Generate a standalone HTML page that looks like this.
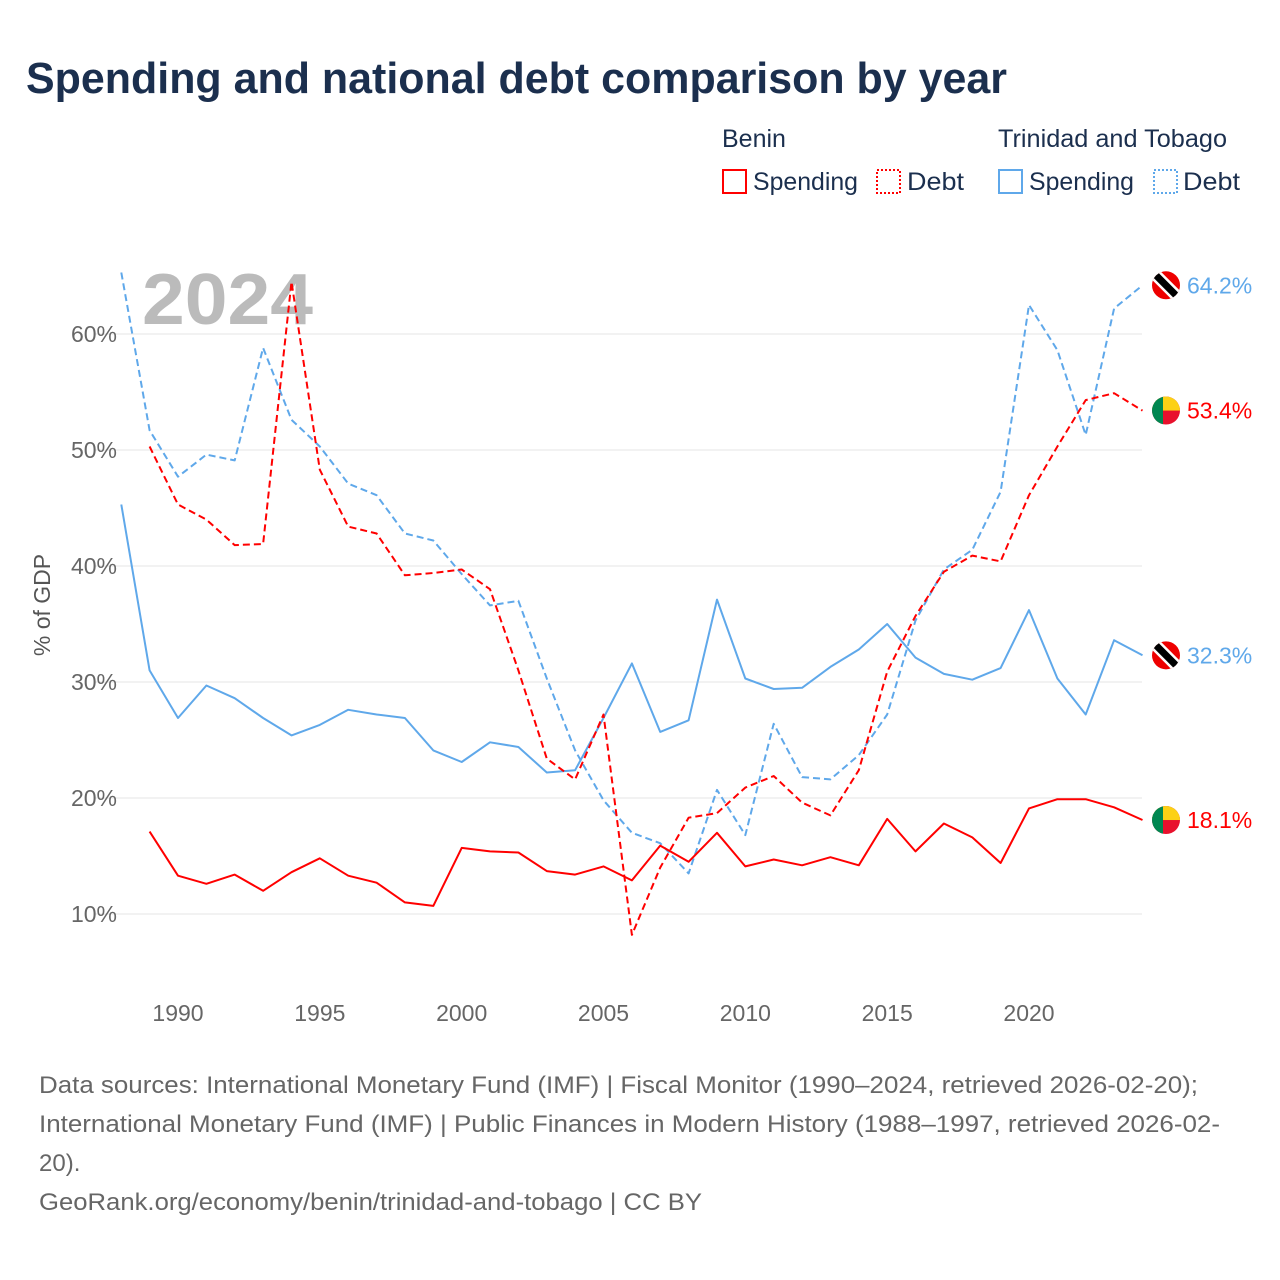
<!DOCTYPE html>
<html><head><meta charset="utf-8">
<style>
body{margin:0;background:#fff;font-family:"Liberation Sans",sans-serif;}
#wrap{position:relative;width:1280px;height:1280px;overflow:hidden;}
</style></head>
<body>
<div id="wrap">
<svg id="chart" width="1280" height="1280" style="position:absolute;left:0;top:0">
<text x="26" y="93" font-size="44" font-weight="bold" fill="#1b2f4e" textLength="981" lengthAdjust="spacingAndGlyphs">Spending and national debt comparison by year</text>
<g font-size="25" fill="#1b2f4e">
<text x="722" y="147">Benin</text>
<rect x="723" y="170" width="23" height="23" fill="none" stroke="#f00" stroke-width="2"/>
<text x="753" y="190" textLength="105" lengthAdjust="spacingAndGlyphs">Spending</text>
<rect x="877" y="170" width="23" height="23" fill="none" stroke="#f00" stroke-width="2" stroke-dasharray="2,2"/>
<text x="907" y="190" textLength="57" lengthAdjust="spacingAndGlyphs">Debt</text>
<text x="998" y="147" textLength="229" lengthAdjust="spacingAndGlyphs">Trinidad and Tobago</text>
<rect x="999" y="170" width="23" height="23" fill="none" stroke="#5fa8ea" stroke-width="2"/>
<text x="1029" y="190" textLength="105" lengthAdjust="spacingAndGlyphs">Spending</text>
<rect x="1154" y="170" width="23" height="23" fill="none" stroke="#5fa8ea" stroke-width="2" stroke-dasharray="2,2"/>
<text x="1183" y="190" textLength="57" lengthAdjust="spacingAndGlyphs">Debt</text>
</g>
<text x="142" y="324" font-size="72" font-weight="bold" fill="#bbb" textLength="171" lengthAdjust="spacingAndGlyphs">2024</text>
<text transform="translate(50,605) rotate(-90)" text-anchor="middle" font-size="23" fill="#555">% of GDP</text>
<g id="grid"></g><g id="series"></g><g id="ends"></g>
<g font-size="24" fill="#666">
<text x="39" y="1093" textLength="1159" lengthAdjust="spacingAndGlyphs">Data sources: International Monetary Fund (IMF) | Fiscal Monitor (1990–2024, retrieved 2026-02-20);</text>
<text x="39" y="1132" textLength="1181" lengthAdjust="spacingAndGlyphs">International Monetary Fund (IMF) | Public Finances in Modern History (1988–1997, retrieved 2026-02-</text>
<text x="39" y="1171">20).</text>
<text x="39" y="1210" textLength="663" lengthAdjust="spacingAndGlyphs">GeoRank.org/economy/benin/trinidad-and-tobago | CC BY</text>
</g>
</svg>
</div>
<script>
const yTicks=[10,20,30,40,50,60];
const xTicks=[1990,1995,2000,2005,2010,2015,2020];
const ttDebtYears=[1988,1989,1990,1991,1992,1993,1994,1995,1996,1997,1998,1999,2000,2001,2002,2003,2004,2005,2006,2007,2008,2009,2010,2011,2012,2013,2014,2015,2016,2017,2018,2019,2020,2021,2022,2023,2024];
const ttDebt=[65.3,51.7,47.7,49.6,49.1,58.8,52.6,50.3,47.1,46.1,42.8,42.2,39.3,36.6,37.0,30.3,24.1,19.8,17.0,16.1,13.5,20.7,16.8,26.4,21.8,21.6,23.7,27.2,35.3,39.7,41.4,46.4,62.5,58.6,51.3,62.2,64.2];
const ttSpending=[45.3,31.0,26.9,29.7,28.6,26.9,25.4,26.3,27.6,27.2,26.9,24.1,23.1,24.8,24.4,22.2,22.4,26.9,31.6,25.7,26.7,37.1,30.3,29.4,29.5,31.3,32.8,35.0,32.1,30.7,30.2,31.2,36.2,30.3,27.2,33.6,32.3];
const bjYears=[1989,1990,1991,1992,1993,1994,1995,1996,1997,1998,1999,2000,2001,2002,2003,2004,2005,2006,2007,2008,2009,2010,2011,2012,2013,2014,2015,2016,2017,2018,2019,2020,2021,2022,2023,2024];
const bjDebt=[50.3,45.3,44.0,41.8,41.9,64.5,48.3,43.4,42.8,39.2,39.4,39.7,38.0,31.0,23.4,21.6,27.2,8.2,14.0,18.3,18.7,20.9,21.9,19.6,18.5,22.4,30.9,35.7,39.5,40.9,40.4,46.1,50.3,54.3,54.9,53.4];
const bjSpending=[17.1,13.3,12.6,13.4,12.0,13.6,14.8,13.3,12.7,11.0,10.7,15.7,15.4,15.3,13.7,13.4,14.1,12.9,15.9,14.5,17.0,14.1,14.7,14.2,14.9,14.2,18.2,15.4,17.8,16.6,14.4,19.1,19.9,19.9,19.2,18.1];

const NS="http://www.w3.org/2000/svg";
const xs=y=>178+(y-1990)*(1029-178)/30;
const ys=v=>914-(v-10)*11.6;
function mk(t,a,p){const e=document.createElementNS(NS,t);for(const k in a)e.setAttribute(k,a[k]);p.appendChild(e);return e;}
const grid=document.getElementById('grid');
yTicks.forEach(t=>{
  const l=mk('line',{x1:95,x2:1142,y1:ys(t),y2:ys(t),stroke:'#e6e6e6','stroke-width':1},grid);
  
  
  const tx=mk('text',{x:117,y:ys(t)+8,'text-anchor':'end','font-size':23,fill:'#666'},grid);
  tx.textContent=t+'%';
  
  
});
xTicks.forEach(t=>{
  const tx=mk('text',{x:xs(t),y:1021,'text-anchor':'middle','font-size':23,fill:'#666'},grid);
  tx.textContent=t;
  
  
});
const sg=document.getElementById('series');
function line(years,vals,color,dash,name){
  const d=years.map((y,i)=>(i?'L':'M')+xs(y).toFixed(1)+','+ys(vals[i]).toFixed(1)).join('');
  const p=mk('path',{d:d,fill:'none',stroke:color,'stroke-width':2,'stroke-linejoin':'round'},sg);
  if(dash)p.setAttribute('stroke-dasharray','7,4');
  
  
}
line(ttDebtYears,ttSpending,'#5fa8ea',false,'tt-spending-line');
line(ttDebtYears,ttDebt,'#5fa8ea',true,'tt-debt-line');
line(bjYears,bjSpending,'#f00',false,'benin-spending-line');
line(bjYears,bjDebt,'#f00',true,'benin-debt-line');
const eg=document.getElementById('ends');
function flag(v,country,color,name){
  const cx=1166,cy=ys(v);
  const g=mk('g',{},eg);
  
  
  const id='c'+name;
  const cp=mk('clipPath',{id:id},g);mk('circle',{cx:cx,cy:cy,r:14},cp);
  const fg=mk('g',{'clip-path':'url(#'+id+')'},g);
  if(country==='tt'){
    mk('rect',{x:cx-15,y:cy-15,width:30,height:30,fill:'#e00'},fg);
    mk('line',{x1:cx-15,y1:cy-15,x2:cx+15,y2:cy+15,stroke:'#fff','stroke-width':12},fg);
    mk('line',{x1:cx-15,y1:cy-15,x2:cx+15,y2:cy+15,stroke:'#000','stroke-width':7},fg);
  }else{
    mk('rect',{x:cx-15,y:cy-15,width:30,height:30,fill:'#e8112d'},fg);
    mk('rect',{x:cx-15,y:cy-15,width:30,height:15,fill:'#fcd116'},fg);
    mk('rect',{x:cx-15,y:cy-15,width:12,height:30,fill:'#008751'},fg);
  }
  const t=mk('text',{x:1187,y:cy+8,'font-size':23,fill:color},g);
  t.textContent=v.toFixed(1)+'%';
}
flag(ttDebt[ttDebt.length-1],'tt','#5fa8ea','end-label-tt-debt');
flag(bjDebt[bjDebt.length-1],'bj','#f00','end-label-benin-debt');
flag(ttSpending[ttSpending.length-1],'tt','#5fa8ea','end-label-tt-spending');
flag(bjSpending[bjSpending.length-1],'bj','#f00','end-label-benin-spending');
</script>
</body></html>
